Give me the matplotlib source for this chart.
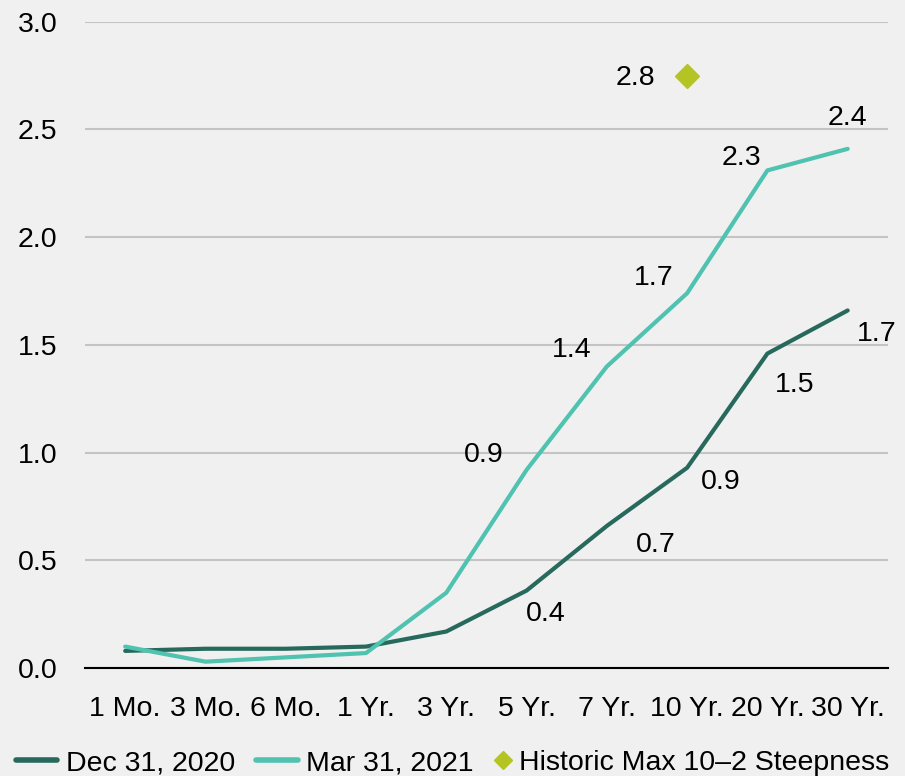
import matplotlib
matplotlib.use("Agg")
from matplotlib import pyplot as plt
from matplotlib.lines import Line2D

plt.rcParams['font.family'] = ['Liberation Sans', 'DejaVu Sans']

categories = ['1 Mo.', '3 Mo.', '6 Mo.', '1 Yr.', '3 Yr.', '5 Yr.', '7 Yr.', '10 Yr.', '20 Yr.', '30 Yr.']
dec_2020 = [0.08, 0.09, 0.09, 0.10, 0.17, 0.36, 0.66, 0.93, 1.46, 1.66]
mar_2021 = [0.10, 0.03, 0.05, 0.07, 0.35, 0.92, 1.40, 1.74, 2.31, 2.41]
historic_max = 2.75
historic_idx = 7

# label offsets (points) for the labelled points
dec_offsets = {5: (14, -17), 6: (35, -14), 7: (24, -10), 8: (20, -23), 9: (21, -17)}
mar_offsets = {5: (-31, 11), 6: (-25, 12), 7: (-24, 11), 8: (-19, 9), 9: (0, 22)}

dark = '#27695d'
light = '#4fc2b0'
lime = '#b3c424'
bg = '#f0f0f0'
fs = 20.5

fig = plt.figure(figsize=(9.05, 7.76), dpi=100, facecolor=bg)
ax = fig.add_axes([0.094, 0.139, 0.887, 0.833], facecolor=bg)

x = list(range(len(categories)))
ax.plot(x, dec_2020, color=dark, lw=3, solid_capstyle='round', zorder=3)
ax.plot(x, mar_2021, color=light, lw=3, solid_capstyle='round', zorder=3)
ax.plot(historic_idx, historic_max, marker='D', color=lime, ms=12.5, ls='none', zorder=4)

for i, off in dec_offsets.items():
    ax.annotate(f'{dec_2020[i]:.1f}', (i, dec_2020[i]), xytext=off,
                textcoords='offset points', ha='center', va='center', fontsize=fs)
for i, off in mar_offsets.items():
    ax.annotate(f'{mar_2021[i]:.1f}', (i, mar_2021[i]), xytext=off,
                textcoords='offset points', ha='center', va='center', fontsize=fs)
ax.annotate(f'{historic_max:.1f}', (historic_idx, historic_max), xytext=(-37, -2),
            textcoords='offset points', ha='center', va='center', fontsize=fs)

ax.set_xlim(-0.5, len(categories) - 0.5)
ax.set_ylim(0, 3.0)
yt = [0, 0.5, 1.0, 1.5, 2.0, 2.5, 3.0]
ax.set_yticks(yt)
ax.set_yticklabels([f'{v:.1f}' for v in yt])
ax.set_xticks(x)
ax.set_xticklabels(categories)
ax.tick_params(axis='both', length=0, labelsize=fs)
ax.tick_params(axis='y', pad=20)
ax.tick_params(axis='x', pad=20)
ax.grid(axis='y', color='#c4c4c4', lw=1.5)
ax.set_axisbelow(True)
for s in ['top', 'right', 'left']:
    ax.spines[s].set_visible(False)
ax.spines['bottom'].set_color('black')
ax.spines['bottom'].set_linewidth(1.5)
ax.spines['bottom'].set_zorder(5)

# legend in two parts so the diamond gets a short handle
line_handles = [Line2D([], [], color=dark, lw=4, solid_capstyle='round'),
                Line2D([], [], color=light, lw=4, solid_capstyle='round')]
fig.legend(line_handles, ['Dec 31, 2020', 'Mar 31, 2021'], loc='lower left',
           bbox_to_anchor=(16 / 905, 0.0), ncol=2, frameon=False, fontsize=fs,
           borderpad=0, borderaxespad=0, handlelength=1.45, handletextpad=0.3,
           columnspacing=0.75)
diamond = Line2D([], [], color=lime, marker='D', ls='none', ms=9)
fig.legend([diamond], ['Historic Max 10\u20132 Steepness'], loc='lower left',
           bbox_to_anchor=(493 / 905, 0.0), frameon=False, fontsize=fs,
           borderpad=0, borderaxespad=0, handlelength=0.7, handletextpad=0.2)

fig.savefig('out.png', dpi=100, facecolor=bg)
